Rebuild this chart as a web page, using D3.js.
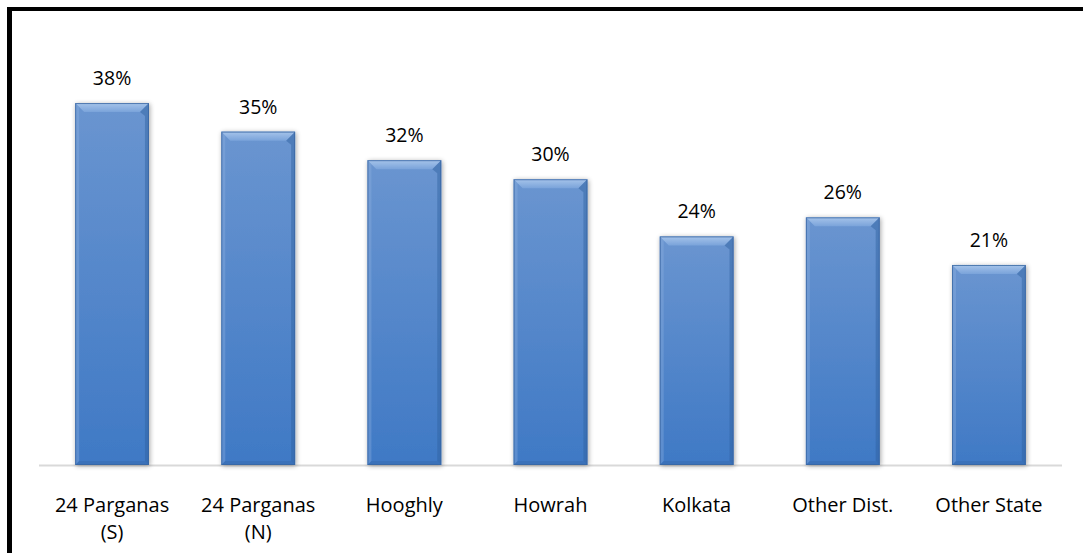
<!DOCTYPE html>
<html>
<head>
<meta charset="utf-8">
<script src="https://cdn.jsdelivr.net/npm/d3@7"></script>
<style>
  html, body { margin: 0; padding: 0; background: #fff; }
  svg { display: block; }
  text { font-family: "Open Sans", "Lato", sans-serif; fill: #000; }
</style>
</head>
<body>
<script>
// District-wise share (percent)
const categories = ["24 Parganas (S)", "24 Parganas (N)", "Hooghly", "Howrah", "Kolkata", "Other Dist.", "Other State"];
const values = [38, 35, 32, 30, 24, 26, 21];
const valueLabels = ["38%", "35%", "32%", "30%", "24%", "26%", "21%"];
const categoryLines = [["24 Parganas", "(S)"], ["24 Parganas", "(N)"], ["Hooghly"], ["Howrah"], ["Kolkata"], ["Other Dist."], ["Other State"]];

const W = 1083, H = 553;
const svg = d3.select("body").append("svg").attr("width", W).attr("height", H);

const defs = svg.append("defs");
const grad = defs.append("linearGradient").attr("id", "barFill")
  .attr("x1", 0).attr("y1", 0).attr("x2", 0).attr("y2", 1);
grad.append("stop").attr("offset", "0%").attr("stop-color", "#6a95d0");
grad.append("stop").attr("offset", "100%").attr("stop-color", "#3f79c5");

const topGrad = defs.append("linearGradient").attr("id", "topFill")
  .attr("x1", 0).attr("y1", 0).attr("x2", 0).attr("y2", 1);
topGrad.append("stop").attr("offset", "0%").attr("stop-color", "#a6c4ea");
topGrad.append("stop").attr("offset", "100%").attr("stop-color", "#7aa3da");

const shadow = defs.append("filter").attr("id", "shadow")
  .attr("x", "-20%").attr("y", "-10%").attr("width", "140%").attr("height", "120%");
shadow.append("feGaussianBlur").attr("in", "SourceAlpha").attr("stdDeviation", 2.5).attr("result", "b");
shadow.append("feOffset").attr("in", "b").attr("dx", 1).attr("dy", 1).attr("result", "o");
shadow.append("feComponentTransfer").attr("in", "o").attr("result", "s")
  .append("feFuncA").attr("type", "linear").attr("slope", 0.35);
const merge = shadow.append("feMerge");
merge.append("feMergeNode").attr("in", "s");
merge.append("feMergeNode").attr("in", "SourceGraphic");

// Frame: heavy top and left rules
svg.append("rect").attr("x", 7).attr("y", 7).attr("width", W - 7).attr("height", 4).attr("fill", "#000");
svg.append("rect").attr("x", 7).attr("y", 7).attr("width", 5).attr("height", H - 7).attr("fill", "#000");

const margin = { left: 39, right: 21, top: 85, bottom: 88 };
const x = d3.scaleBand().domain(categories).range([margin.left, W - margin.right]).paddingInner(0.495).paddingOuter(0.2475);
const y = d3.scaleLinear().domain([0, 40]).range([H - margin.bottom, H - margin.bottom - 381]);
const base = y(0);

// Baseline
svg.append("line").attr("x1", margin.left).attr("x2", W - margin.right)
  .attr("y1", base + 0.5).attr("y2", base + 0.5)
  .attr("stroke", "#d9d9d9").attr("stroke-width", 2);

const bev = 9;
const bars = svg.append("g").selectAll("g").data(categories).join("g")
  .attr("filter", "url(#shadow)");

bars.each(function (c, i) {
  const g = d3.select(this);
  const x0 = x(c), bw = x.bandwidth(), y0 = y(values[i]), x1 = x0 + bw, y1 = base;
  g.append("rect").attr("x", x0).attr("y", y0).attr("width", bw).attr("height", y1 - y0).attr("fill", "url(#barFill)");
  // top bevel
  g.append("path").attr("d", `M${x0},${y0}L${x1},${y0}L${x1 - bev},${y0 + bev}L${x0 + bev},${y0 + bev}Z`).attr("fill", "url(#topFill)");
  // left bevel
  g.append("path").attr("d", `M${x0},${y0}L${x0 + 4},${y0 + 4}L${x0 + 4},${y1 - 4}L${x0},${y1}Z`).attr("fill", "#8fb1e0").attr("opacity", 0.35);
  // right bevel
  g.append("path").attr("d", `M${x1},${y0}L${x1 - bev},${y0 + bev}L${x1 - 4},${y0 + bev + 4}L${x1 - 4},${y1 - 4}L${x1},${y1}Z`).attr("fill", "#2f5f9e").attr("opacity", 0.45);
  // bottom bevel
  g.append("path").attr("d", `M${x0},${y1}L${x0 + 4},${y1 - 4}L${x1 - 4},${y1 - 4}L${x1},${y1}Z`).attr("fill", "#2f5f9e").attr("opacity", 0.3);
  // outline
  g.append("rect").attr("x", x0 + 0.5).attr("y", y0 + 0.5).attr("width", bw - 1).attr("height", y1 - y0 - 1)
    .attr("fill", "none").attr("stroke", "#3a67a3").attr("stroke-width", 1).attr("opacity", 0.8);
});

// Value labels
svg.append("g").selectAll("text").data(categories).join("text")
  .attr("x", c => x(c) + x.bandwidth() / 2)
  .attr("y", (c, i) => y(values[i]) - 18)
  .attr("text-anchor", "middle")
  .attr("font-size", 19.5)
  .text((c, i) => valueLabels[i]);

// Category labels
const cat = svg.append("g").selectAll("text").data(categories).join("text")
  .attr("x", c => x(c) + x.bandwidth() / 2)
  .attr("y", 512)
  .attr("text-anchor", "middle")
  .attr("font-size", 20);
cat.each(function (c, i) {
  const t = d3.select(this);
  categoryLines[i].forEach((line, k) => {
    t.append("tspan").attr("x", x(c) + x.bandwidth() / 2).attr("dy", k === 0 ? 0 : 27).text(line);
  });
});
</script>
</body>
</html>
